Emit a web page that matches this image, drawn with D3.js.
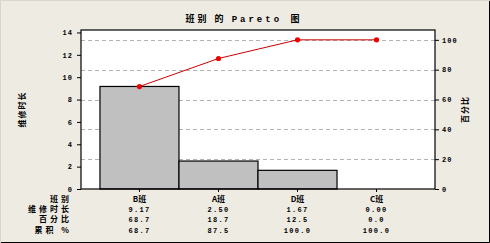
<!DOCTYPE html>
<html>
<head>
<meta charset="utf-8">
<script src="https://cdn.jsdelivr.net/npm/d3@7"></script>
<style>
  body { margin: 0; background: #eeebe3; }
  text { font-family: "Liberation Mono", "DejaVu Sans Mono", monospace; font-weight: bold; fill: #000; }
  .cjk { font-family: "Noto Sans CJK SC", sans-serif; }
</style>
</head>
<body>
<div id="chart"></div>
<script>
// data
var categories = ['B班', 'A班', 'D班', 'C班'];
var durations = [9.17, 2.50, 1.67, 0.00];
var percents = ['68.7', '18.7', '12.5', '0.0'];
var cumPercents = [68.7, 87.5, 100.0, 100.0];
var leftTicks = [0, 2, 4, 6, 8, 10, 12, 14];
var rightTicks = [0, 20, 40, 60, 80, 100];
var rowLabels = ['班别', '维修时长', '百分比', '累积 %'];

var W = 490, H = 243;
var margin = {top: 30, right: 55, bottom: 54, left: 81};
var width = W - margin.left - margin.right;
var height = H - margin.top - margin.bottom;
var total = d3.sum(durations);

var svg = d3.select('#chart')
    .append('svg')
        .attr('width', W)
        .attr('height', H);

svg.append('rect')
    .attr('x', 0).attr('y', 0)
    .attr('width', W).attr('height', H)
    .attr('fill', '#eeebe3');
// frame: dark line on right and bottom
svg.append('path')
    .attr('d', `M${W-0.5},0 V${H-0.5} H0`)
    .attr('fill', 'none')
    .attr('stroke', '#000');
svg.append('path')
    .attr('d', `M0.5,${H} V0.5 H${W}`)
    .attr('fill', 'none')
    .attr('stroke', '#d8d5cc');

var title = svg.append('text')
    .attr('x', 244).attr('y', 22)
    .attr('text-anchor', 'middle')
    .style('font-size', '9px')
    .style('letter-spacing', '3px');
title.append('tspan').attr('class', 'cjk').text('班别  的  ');
title.append('tspan').text('Pareto ');
title.append('tspan').attr('class', 'cjk').text('图');

var g = svg.append('g')
    .attr('transform', `translate(${margin.left}, ${margin.top})`);

var x = d3.scaleBand()
    .domain(categories)
    .range([0, width])
    .paddingInner(0)
    .paddingOuter(0.24);

var y = d3.scaleLinear()
    .domain([0, 14.22])
    .range([height, 0]);

var yPct = d3.scaleLinear()
    .domain([0, 100])
    .range([height, y(total)]);

g.append('rect')
    .attr('width', width).attr('height', height)
    .attr('fill', '#fff');

// dashed grid at the percent ticks
g.selectAll('.grid')
    .data(rightTicks.filter(d => d > 0))
    .enter()
    .append('line')
        .attr('class', 'grid')
        .attr('x1', 0).attr('x2', width)
        .attr('y1', d => Math.round(yPct(d)) + 0.5)
        .attr('y2', d => Math.round(yPct(d)) + 0.5)
        .attr('stroke', '#b4b4b4')
        .attr('stroke-dasharray', '4,3');

g.selectAll('.bar')
    .data(categories)
    .enter()
    .append('rect')
        .attr('class', 'bar')
        .attr('x', d => x(d))
        .attr('y', (d, i) => y(durations[i]) - (durations[i] === 0 ? 1 : 0))
        .attr('width', x.bandwidth())
        .attr('height', (d, i) => height - y(durations[i]))
        .attr('fill', '#c0c0c0')
        .attr('stroke', '#000')
        .attr('stroke-width', 1.2);

var line = d3.line()
    .x((d, i) => x(categories[i]) + x.bandwidth() / 2)
    .y(d => yPct(d));

g.append('path')
    .datum(cumPercents)
    .attr('d', line)
    .attr('fill', 'none')
    .attr('stroke', '#cc0000')
    .attr('stroke-width', 1);

g.selectAll('.pt')
    .data(cumPercents)
    .enter()
    .append('circle')
        .attr('class', 'pt')
        .attr('cx', (d, i) => x(categories[i]) + x.bandwidth() / 2)
        .attr('cy', d => yPct(d))
        .attr('r', 2.6)
        .attr('fill', '#ee0000');

g.append('rect')
    .attr('width', width).attr('height', height)
    .attr('fill', 'none')
    .attr('stroke', '#000')
    .attr('stroke-width', 1.2);

var yAxis = d3.axisLeft(y).tickValues(leftTicks).tickSize(4).tickPadding(4);
g.append('g').call(yAxis)
    .call(a => a.select('.domain').remove())
    .selectAll('text')
        .style('font-size', '7px')
        .style('letter-spacing', '1px')
        .style('font-family', '"Liberation Mono", monospace');

var yAxisR = d3.axisRight(yPct).tickValues(rightTicks).tickSize(4).tickPadding(3);
g.append('g')
    .attr('transform', `translate(${width}, 0)`)
    .call(yAxisR)
    .call(a => a.select('.domain').remove())
    .selectAll('text')
        .style('font-size', '7px')
        .style('letter-spacing', '1px')
        .style('font-family', '"Liberation Mono", monospace');

var xAxis = d3.axisBottom(x).tickSize(3).tickFormat('');
g.append('g')
    .attr('transform', `translate(0, ${height})`)
    .call(xAxis)
    .call(a => a.select('.domain').remove());

// table under the axis
var rowY = [199, 209, 219, 230];
var rows = [categories, durations.map(d => d.toFixed(2)), percents, cumPercents.map(d => d.toFixed(1))];

rows.forEach(function (row, r) {
    g.selectAll('.row' + r)
        .data(row)
        .enter()
        .append('text')
            .attr('class', r === 0 ? 'cjk' : null)
            .attr('x', (d, i) => x(categories[i]) + x.bandwidth() / 2)
            .attr('y', rowY[r] - margin.top + 3)
            .attr('text-anchor', 'middle')
            .style('font-size', r === 0 ? '8px' : '7px')
            .style('letter-spacing', r === 0 ? '0px' : '1.3px')
            .text(d => d);
    g.append('text')
        .attr('class', 'cjk')
        .attr('x', -9)
        .attr('y', rowY[r] - margin.top + 3)
        .attr('text-anchor', 'end')
        .style('font-size', '8px')
        .style('letter-spacing', '3px')
        .text(rowLabels[r]);
});

g.append('text')
    .attr('class', 'cjk')
    .attr('transform', `translate(${22 - margin.left + 3}, ${height / 2}) rotate(-90)`)
    .attr('text-anchor', 'middle')
    .style('font-size', '8px')
    .style('letter-spacing', '1px')
    .text('维修时长');

g.append('text')
    .attr('class', 'cjk')
    .attr('transform', `translate(${width + 33}, ${height / 2}) rotate(-90)`)
    .attr('text-anchor', 'middle')
    .style('font-size', '8px')
    .style('letter-spacing', '1px')
    .text('百分比');
</script>
</body>
</html>
